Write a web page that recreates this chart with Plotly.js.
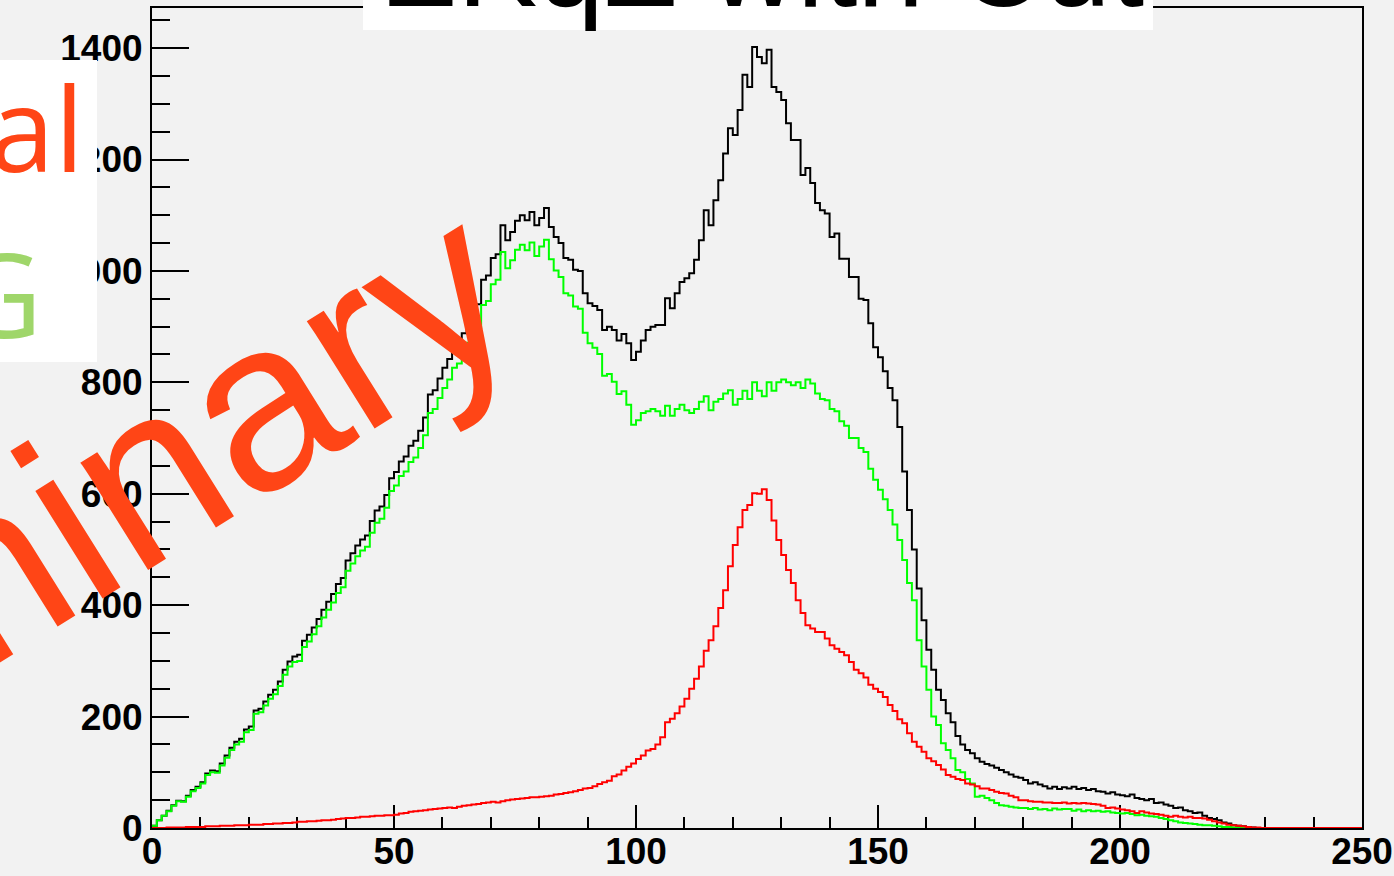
<!DOCTYPE html>
<html>
<head>
<meta charset="utf-8">
<script src="https://cdn.plot.ly/plotly-3.0.1.min.js"></script>
<style>
html,body{margin:0;padding:0;background:#f2f2f2;}
#chart{width:1394px;height:876px;}
</style>
</head>
<body>
<div id="chart"></div>
<script>
// Histogram: 250 bins of width 1 from 0 to 250
const binLow = 0;
const binWidth = 1;

// Total (black)
const totalCounts = [
4,14,22,31,41,49,48,58,68,74,
82,98,103,102,116,130,144,155,160,177,
182,211,214,227,239,248,263,284,299,308,
311,336,347,360,375,392,406,420,438,449,
480,493,507,518,525,551,570,577,598,628,
639,658,667,686,695,713,737,778,786,807,
826,842,862,872,888,912,932,940,984,992,
1023,1030,1082,1055,1070,1090,1100,1091,1106,1082,
1095,1113,1079,1061,1050,1023,1020,1002,1000,960,
942,937,930,894,900,894,875,887,870,840,
855,875,894,900,903,903,951,933,960,980,
987,996,1020,1055,1109,1082,1127,1163,1211,1256,
1244,1289,1352,1330,1402,1384,1373,1397,1330,1321,
1307,1265,1235,1235,1172,1185,1158,1122,1109,1103,
1061,1067,1022,1022,989,989,950,948,906,863,
845,820,790,768,720,640,571,500,430,373,
320,284,248,230,206,190,165,150,140,134,
125,119,115,112,108,104,100,96,92,90,
86,80,82,78,75,71,74,70,73,71,
74,70,72,68,70,66,65,62,64,60,
59,57,60,54,52,50,52,45,46,42,
40,36,37,32,30,27,28,22,18,16,
14,10,8,5,4,3,2,1,0,0,
0,0,0,0,0,0,0,0,0,0,
0,0,0,0,0,0,0,0,0,0
];

// Background (green)
const bkgCounts = [
4,14,22,30,40,48,47,56,66,72,
80,95,100,99,112,126,140,150,155,172,
176,205,208,220,232,240,255,275,290,298,
300,325,335,348,362,378,392,405,422,432,
462,475,488,498,505,530,548,555,575,605,
615,632,640,657,665,682,705,745,752,772,
790,805,826,834,848,871,890,897,939,946,
976,984,1034,1005,1019,1038,1047,1037,1051,1027,
1044,1056,1021,1001,989,960,956,936,932,889,
870,862,851,812,815,801,779,784,760,724,
732,745,748,752,748,740,758,740,752,760,
750,745,752,765,775,750,765,770,780,786,
760,770,785,770,800,785,775,800,785,800,
805,800,795,800,790,805,798,780,770,768,
752,748,730,722,700,700,682,675,645,625,
607,590,571,545,517,481,440,409,337,290,
248,200,185,152,140,125,104,100,88,80,
56,58,54,50,45,41,40,38,37,36,
36,34,36,33,34,32,35,33,34,34,
31,33,30,32,30,31,29,30,28,27,
26,27,25,23,24,22,21,20,18,16,
14,12,10,9,8,7,6,5,5,4,
3,2,2,1,0,0,0,0,0,0,
0,0,0,0,0,0,0,0,0,0,
0,0,0,0,0,0,0,0,0,0
];

// Signal (red)
const sigCounts = [
0,0,0,1,1,1,1,2,2,2,
2,3,3,3,4,4,4,5,5,5,
6,6,6,7,7,8,8,9,9,10,
11,11,12,12,13,14,14,15,16,17,
18,18,19,20,20,21,22,22,23,23,
24,26,27,29,30,31,32,33,34,35,
36,37,36,38,40,41,42,43,45,46,
47,46,48,50,51,52,53,54,55,55,
56,57,58,60,61,63,64,66,68,71,
72,75,79,82,85,93,96,103,110,116,
124,130,139,142,150,163,190,196,206,218,
232,250,268,290,318,337,362,395,427,470,
508,540,571,580,601,600,608,589,552,517,
490,463,440,409,386,364,358,352,352,340,
328,322,316,310,298,284,278,270,257,250,
244,235,221,210,195,188,170,155,146,137,
125,120,113,105,95,92,88,86,80,78,
75,71,71,68,65,63,62,58,55,50,
50,48,47,47,46,46,45,45,46,44,
45,44,45,44,43,42,40,36,37,35,
33,32,30,27,30,28,26,25,24,22,
20,22,20,19,20,18,18,17,15,12,
10,8,6,5,4,3,2,1,1,0,
0,0,0,0,0,0,0,0,0,0,
0,0,0,0,0,0,0,0,0,0
];

const titleText = "ΣKqZ with Cut";
const sigLabel = "Signal";
const bkgLabel = "BKG";
const watermark = "Preliminary";

function stepXY(counts){
  const xs = [], ys = [];
  for (let i = 0; i < counts.length; i++){ xs.push(binLow + i*binWidth); ys.push(counts[i]); }
  xs.push(binLow + counts.length*binWidth); ys.push(counts[counts.length-1]);
  return {x: xs, y: ys};
}

function histTrace(counts, color){
  const s = stepXY(counts);
  return {x: s.x, y: s.y, type: 'scatter', mode: 'lines',
    line: {shape: 'hv', color: color, width: 2}, cliponaxis: false, hoverinfo: 'skip'};
}

const traces = [
  histTrace(totalCounts, '#000000'),
  histTrace(bkgCounts, '#00ff00'),
  histTrace(sigCounts, '#ff0000')
];

const tickFont = {family: 'Liberation Sans, Arial, sans-serif', size: 37, weight: 'bold', color: '#000'};

const layout = {
  width: 1394, height: 876,
  margin: {l: 152, r: 32, t: 8, b: 48, pad: 0},
  paper_bgcolor: '#f2f2f2', plot_bgcolor: '#f2f2f2',
  showlegend: false,
  xaxis: {range: [0, 250], tick0: 0, dtick: 50, ticks: 'inside', ticklen: 23, tickwidth: 2, tickcolor: '#000',
    showline: true, linecolor: '#000', linewidth: 2, mirror: true, showgrid: false, zeroline: false,
    tickfont: tickFont, layer: 'below traces', ticklabelstandoff: -10,
    minor: {dtick: 10, ticks: 'inside', ticklen: 11, tickwidth: 2, tickcolor: '#000', showgrid: false}},
  yaxis: {range: [0, 1472], tick0: 0, dtick: 200, ticks: 'inside', ticklen: 37, tickwidth: 2, tickcolor: '#000',
    showline: true, linecolor: '#000', linewidth: 2, mirror: true, showgrid: false, zeroline: false,
    tickfont: tickFont, layer: 'below traces', ticklabelstandoff: 0,
    minor: {dtick: 50, ticks: 'inside', ticklen: 18, tickwidth: 2, tickcolor: '#000', showgrid: false}},
  shapes: [
    {type: 'rect', xref: 'paper', yref: 'paper', x0: 0.1744, x1: 0.8273, y0: 0.9732, y1: 1.03,
      fillcolor: '#ffffff', line: {width: 0}, layer: 'above'},
    {type: 'rect', xref: 'paper', yref: 'paper', x0: -0.14, x1: -0.04545, y0: 0.5683, y1: 0.9366,
      fillcolor: '#ffffff', line: {width: 0}, layer: 'above'}
  ],
  annotations: [
    {text: titleText, xref: 'paper', yref: 'paper', x: 0.505, y: 1.0532, xanchor: 'center', yanchor: 'middle',
      showarrow: false, font: {family: 'Liberation Sans, Arial, sans-serif', size: 120, color: '#000'}},
    {text: sigLabel, xref: 'paper', yref: 'paper', x: -0.0545, y: 0.855, xanchor: 'right', yanchor: 'middle',
      showarrow: false, font: {family: 'Open Sans, sans-serif', size: 118, color: '#ff4516'}},
    {text: bkgLabel, xref: 'paper', yref: 'paper', x: -0.089, y: 0.653, xanchor: 'right', yanchor: 'middle',
      showarrow: false, font: {family: 'Open Sans, sans-serif', size: 118, color: '#9fd66a'}},
    {text: watermark, xref: 'paper', yref: 'paper', x: -0.1446, y: 0.3037, xanchor: 'center', yanchor: 'middle',
      textangle: -32, showarrow: false,
      font: {family: 'Liberation Sans, Arial, sans-serif', size: 240, color: '#ff4516'}}
  ]
};

Plotly.newPlot('chart', traces, layout, {staticPlot: true, displayModeBar: false});
</script>
</body>
</html>
